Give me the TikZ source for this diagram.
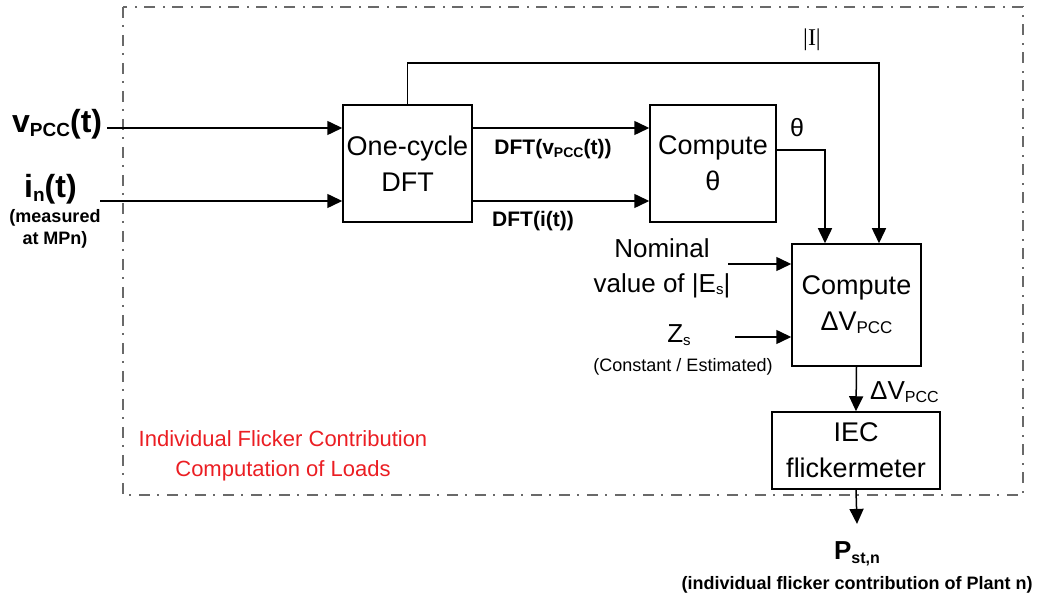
\documentclass[tikz,border=0pt]{standalone}
\usepackage{fontspec}
\setmainfont{Liberation Sans}
\newfontfamily\serifff{Liberation Serif}
\usetikzlibrary{arrows.meta}
\definecolor{redc}{RGB}{235,30,35}
\definecolor{dashc}{RGB}{105,105,105}
\newcommand\dn[3]{\raisebox{-#1}{\fontsize{#2}{#2}\selectfont #3}}
\begin{document}
\begin{tikzpicture}[x=1pt,y=-1pt,
  blk/.style={draw,line width=1.5pt,inner sep=0pt,align=center,font=\fontsize{27}{36}\selectfont},
  arr/.style={line width=1.5pt,-{Triangle[length=15pt,width=14pt]}},
  lbl/.style={inner sep=0pt,align=center}]
\useasboundingbox (0,0) rectangle (1045,601);
\draw[line width=2.4pt,dashc,dash pattern=on 11pt off 7pt on 2pt off 8pt] (123,7) rectangle (1023,495);
% blocks
\node[blk,minimum width=129pt,minimum height=117pt] (dft) at (407.5,163.5) {One-cycle\\DFT};
\node[blk,minimum width=126pt,minimum height=117pt] (cth) at (713,163.5) {Compute\\θ};
\node[blk,minimum width=129pt,minimum height=122pt] (cdv) at (856.5,305) {Compute\\ΔV\dn{3pt}{17}{PCC}};
\node[blk,minimum width=168pt,minimum height=77pt] (iec) at (856,450.5) {IEC\\flickermeter};
% inputs
\node[lbl,font=\bfseries\fontsize{32}{32}\selectfont,anchor=west] (vin) at (12,124) {v\dn{4pt}{19}{PCC}(t)};
\node[lbl,font=\bfseries\fontsize{32}{32}\selectfont,anchor=west] (iin) at (24,189) {i\dn{4pt}{19}{n}(t)};
\node[lbl,font=\bfseries\fontsize{18}{22}\selectfont] (meas) at (55,229) {(measured\\at MPn)};
\coordinate (vS) at (107,128);
\coordinate (iS) at (100,201);
\draw[arr] (vS) -- (vS -| dft.west);
\draw[arr] (iS) -- (iS -| dft.west);
% DFT outputs
\coordinate (d1) at (dft.east |- vS);
\coordinate (d2) at (dft.east |- iS);
\draw[arr] (d1) -- (d1 -| cth.west);
\draw[arr] (d2) -- (d2 -| cth.west);
\node[lbl,font=\bfseries\fontsize{21}{21}\selectfont] (l1) at (553,149) {DFT(v\dn{3pt}{14}{PCC}(t))};
\node[lbl,font=\bfseries\fontsize{21}{21}\selectfont] (l2) at (533,221) {DFT(i(t))};
% theta
\coordinate (t1) at ([yshift=13.5pt]cth.east);
\draw[arr] (t1) -| ([xshift=-31.5pt]cdv.north);
\node[lbl,font=\fontsize{25}{25}\selectfont] (th) at (797,128) {θ};
% |I|
\draw[arr] (dft.north) -- ++(0,-41) -| ([xshift=22.5pt]cdv.north);
\node[lbl,font=\serifff\fontsize{24}{24}\selectfont] (ii) at (812,40) {|I|};
% Es and Zs
\node[lbl,font=\fontsize{26}{35}\selectfont] (nom) at (662,268) {Nominal\\value of |E\dn{2pt}{15}{s}|};
\coordinate (nS) at (728,264);
\draw[arr] (nS) -- (nS -| cdv.west);
\node[lbl,font=\fontsize{26}{26}\selectfont] (zs) at (679,335) {Z\dn{3pt}{15}{s}};
\node[lbl,font=\fontsize{18}{18}\selectfont] (ce) at (683,367) {(Constant / Estimated)};
\coordinate (zS) at (735,337);
\draw[arr] (zS) -- (zS -| cdv.west);
% to flickermeter
\draw[arr] (cdv.south) -- (iec.north);
\node[lbl,font=\fontsize{26}{26}\selectfont,anchor=west] (dv) at (870,392) {ΔV\dn{3pt}{16}{PCC}};
% output
\node[lbl,font=\bfseries\fontsize{26}{26}\selectfont,anchor=base] (pst) at (857,560) {P\dn{4pt}{16}{st,n}};
\draw[arr] (iec.south) -- ([yshift=18pt]pst.north);
\node[lbl,font=\bfseries\fontsize{18}{18}\selectfont] (ind) at (857,585) {(individual flicker contribution of Plant n)};
% red label
\node[lbl,text=redc,font=\fontsize{22}{30}\selectfont] (red) at (283,456) {Individual Flicker Contribution\\Computation of Loads};
\end{tikzpicture}
\end{document}
